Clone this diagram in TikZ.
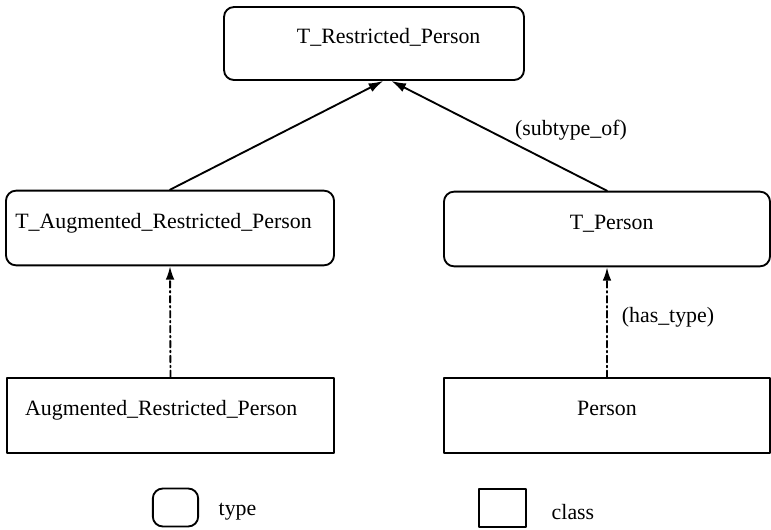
\documentclass[tikz,border=0pt]{standalone}
\usepackage{fontspec}
\setmainfont{Liberation Serif}
\usetikzlibrary{arrows.meta}

\begin{document}
\begin{tikzpicture}[line cap=round,line join=round,x=0.75pt,y=-0.75pt,
	font=\fontsize{16.4}{19}\selectfont,
	typebox/.style={draw,line width=1.4pt,rounded corners=7.5pt,text height=12pt,text depth=12pt,inner sep=0pt},
	classbox/.style={draw,line width=1.3pt,text height=12pt,text depth=12pt,inner sep=0pt},
	subarrow/.style={-{Latex[length=11pt,width=7pt]},line width=1.4pt},
	hasarrow/.style={-{Latex[length=10pt,width=6.5pt]},line width=1.4pt,dash pattern=on 5pt off 2.5pt on 1.2pt off 2.5pt}]
	\useasboundingbox (0,0) rectangle (771,529);
	% types
	\node[typebox,minimum width=225pt,minimum height=54.75pt] (trp) at (374,43.5) {\hspace*{22pt}T\_Restricted\_Person};
	\node[typebox,minimum width=246pt,minimum height=56pt,text width=232pt,align=left] (tarp) at (170,228) {T\_Augmented\_Restricted\_Person};
	\node[typebox,minimum width=244.5pt,minimum height=56pt] (tp) at (607,229) {\hspace*{7pt}T\_Person};
	% classes
	\node[classbox,minimum width=245pt,minimum height=56pt,text width=218pt,align=left] (arp) at (170.5,415.5) {Augmented\_Restricted\_Person};
	\node[classbox,minimum width=244.5pt,minimum height=56pt] (p) at (607,415.5) {Person};

	\draw [subarrow] (tarp.north) -- ([xshift=7pt]trp.south);
	\draw [subarrow] (tp.north) -- ([xshift=13pt]trp.south);
	\draw [hasarrow] (arp.north) -- (tarp.south);
	\draw [hasarrow] (p.north) -- (tp.south);
	\node (sublbl) at (571,130) {(subtype\_of)};
	\node (haslbl) at (668,317) {(has\_type)};

	% legend
	\node[typebox,minimum width=34pt,minimum height=28.5pt,text height=0pt,text depth=0pt] (ltype) at (175.5,507.5) {};
	\node[anchor=west] (ltypetxt) at (214,512) {type};
	\node[classbox,minimum width=35pt,minimum height=29pt,text height=0pt,text depth=0pt] (lclass) at (502.5,508) {};
	\node[anchor=west] (lclasstxt) at (547,512) {class};
\end{tikzpicture}
\end{document}
